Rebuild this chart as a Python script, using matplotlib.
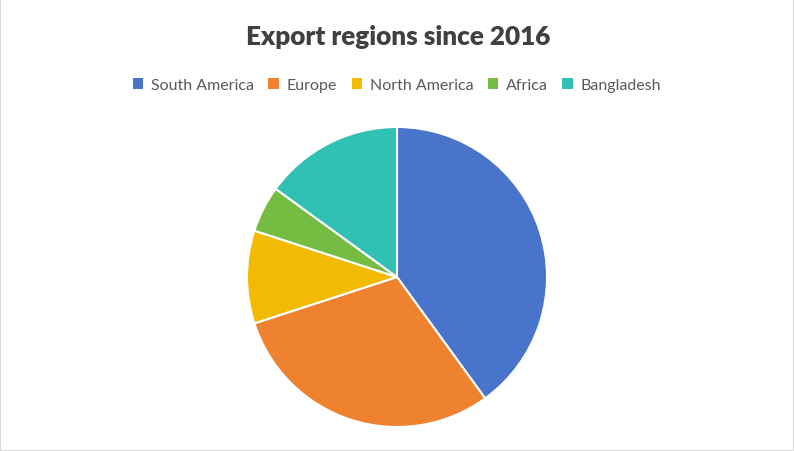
import matplotlib.pyplot as plt
from matplotlib.patches import Patch, Rectangle

regions = ["South America", "Europe", "North America", "Africa", "Bangladesh"]
shares = [40, 30, 10, 5, 15]
colors = ["#4874CB", "#EE822F", "#F2BA02", "#75BC42", "#30C0B4"]

plt.rcParams["font.family"] = ["Lato", "DejaVu Sans"]

fig = plt.figure(figsize=(7.94, 4.52), dpi=100)
fig.patches.append(Rectangle((0, 0), 1, 1, transform=fig.transFigure, fill=False,
                             edgecolor="#D9D9D9", linewidth=1.5))

# pie sits centred at (397, 278) px with radius 150 px
ax = fig.add_axes([(397 - 150) / 794, (174 - 150) / 452, 300 / 794, 300 / 452])
ax.pie(shares, colors=colors, startangle=90, counterclock=False,
       wedgeprops=dict(edgecolor="white", linewidth=1.5))
ax.set_xlim(-1, 1)
ax.set_ylim(-1, 1)
ax.set_aspect("equal")
ax.axis("off")

fig.text(398 / 794, 1 - 37 / 452, "Export regions since 2016", ha="center", va="center",
         fontsize=18.8, fontweight="heavy", color="#404040")

handles = [Patch(facecolor=c, edgecolor="none") for c in colors]
fig.legend(handles, regions, loc="center", bbox_to_anchor=(397 / 794, 1 - 86 / 452),
           ncol=5, frameon=False, fontsize=11.5, labelcolor="#595959",
           handlelength=0.65, handleheight=0.65, handletextpad=0.5, columnspacing=0.9)

fig.savefig("out.png", dpi=100)
